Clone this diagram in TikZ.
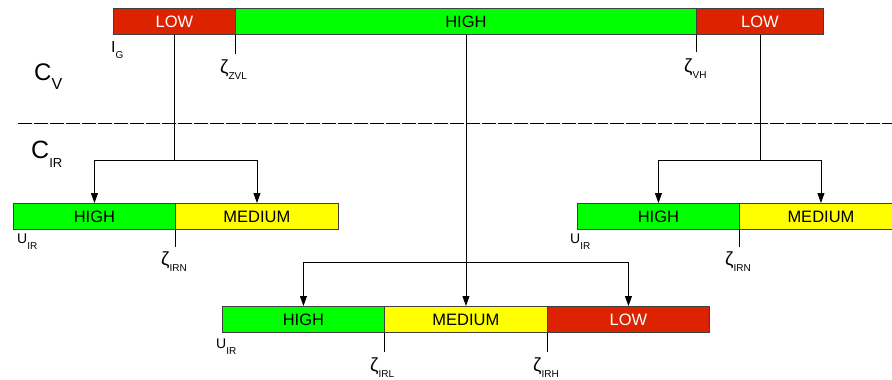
\documentclass[tikz,border=0pt]{standalone}
\usepackage{fontspec}
\setmainfont{Liberation Sans}
\usetikzlibrary{arrows.meta}
\definecolor{barred}{HTML}{DD2200}
\definecolor{bargreen}{HTML}{00FF00}
\definecolor{baryellow}{HTML}{FFFF00}
\definecolor{edgegray}{HTML}{404040}
\tikzset{
  seg/.style={draw=edgegray, line width=0.9pt, minimum height=26pt, inner sep=0pt, anchor=north west, font=\fontsize{16.5}{16.5}\selectfont},
  redseg/.style={seg, fill=barred, text=white},
  greenseg/.style={seg, fill=bargreen, text=black},
  yellowseg/.style={seg, fill=baryellow, text=black},
  conn/.style={draw=black, line width=0.9pt},
  arr/.style={conn, -{Triangle[length=10pt,width=7pt]}},
  tick/.style={draw=black, line width=0.8pt},
  lbl/.style={inner sep=0pt, anchor=west},
}
\newcommand{\zlab}[1]{{\fontsize{19}{19}\selectfont ζ}\raisebox{-6pt}{\fontsize{10}{10}\selectfont #1}}
\newcommand{\ulab}{{\fontsize{14}{14}\selectfont U}\raisebox{-6pt}{\fontsize{10}{10}\selectfont IR}}
\begin{document}
\begin{tikzpicture}[x=1pt,y=-1pt]
\useasboundingbox (0,0) rectangle (892,380);
% top bar
\node[redseg, minimum width=122pt] (tl) at (113,8) {LOW};
\node[greenseg, minimum width=461pt] (tm) at (235,8) {HIGH};
\node[redseg, minimum width=127pt] (tr) at (696,8) {LOW};
% left bar
\node[greenseg, minimum width=162pt] (l1) at (13,203) {HIGH};
\node[yellowseg, minimum width=163pt] (l2) at (175,203) {MEDIUM};
% right bar
\node[greenseg, minimum width=162pt] (r1) at (577,203) {HIGH};
\node[yellowseg, minimum width=163pt] (r2) at (739,203) {MEDIUM};
% bottom bar
\node[greenseg, minimum width=162pt] (b1) at (222,306) {HIGH};
\node[yellowseg, minimum width=163pt] (b2) at (384,306) {MEDIUM};
\node[redseg, minimum width=162pt] (b3) at (547,306) {LOW};
% separator
\coordinate (sepL) at (18,123);
\coordinate (sepR) at (892,123);
\draw[line width=0.8pt, dash pattern=on 14pt off 2pt] (sepL) -- (sepR);
% connectors
\coordinate (lj) at (tl.south |- 0,160);
\draw[conn] (tl.south) -- (lj);
\draw[arr] (lj) -| (l1.north);
\draw[arr] (lj) -| (l2.north);
\coordinate (rj) at (tr.south |- 0,160);
\draw[conn] (tr.south) -- (rj);
\draw[arr] (rj) -| (r1.north);
\draw[arr] (rj) -| (r2.north);
\coordinate (bj) at (tm.south |- 0,262);
\draw[arr] (tm.south) -- (b2.north);
\draw[arr] (bj) -| (b1.north);
\draw[arr] (bj) -| (b3.north);
% ticks
\coordinate (t1) at ([yshift=-19pt]tm.south west);
\coordinate (t2) at ([yshift=-17pt]tr.south west);
\coordinate (t3) at ([yshift=-17pt]l2.south west);
\coordinate (t4) at ([yshift=-17pt]r2.south west);
\coordinate (t5) at ([yshift=-19pt]b2.south west);
\coordinate (t6) at ([yshift=-19pt]b3.south west);
\draw[tick] (tm.south west) -- (t1);
\draw[tick] (tr.south west) -- (t2);
\draw[tick] (l2.south west) -- (t3);
\draw[tick] (r2.south west) -- (t4);
\draw[tick] (b2.south west) -- (t5);
\draw[tick] (b3.south west) -- (t6);
% labels
\node[lbl] (zzvl) at (220,70) {\zlab{ZVL}};
\node[lbl] (zvh) at (684,69) {\zlab{VH}};
\node[lbl] (zirn1) at (161,262) {\zlab{IRN}};
\node[lbl] (zirn2) at (725,262) {\zlab{IRN}};
\node[lbl] (zirl) at (370,368) {\zlab{IRL}};
\node[lbl] (zirh) at (533,368) {\zlab{IRH}};
\node[lbl] (ig) at (111,50) {{\fontsize{16}{16}\selectfont I}\raisebox{-6pt}{\fontsize{10}{10}\selectfont G}};
\node[lbl] (u1) at (17,242) {\ulab};
\node[lbl] (u2) at (570,242) {\ulab};
\node[lbl] (u3) at (216,347) {\ulab};
\node[lbl] (cv) at (34,77) {{\fontsize{24}{24}\selectfont C}\raisebox{-9pt}{\fontsize{16}{16}\selectfont V}};
\node[lbl] (cir) at (31,154) {{\fontsize{25}{25}\selectfont C}\raisebox{-9pt}{\fontsize{13}{13}\selectfont IR}};
\end{tikzpicture}
\end{document}
